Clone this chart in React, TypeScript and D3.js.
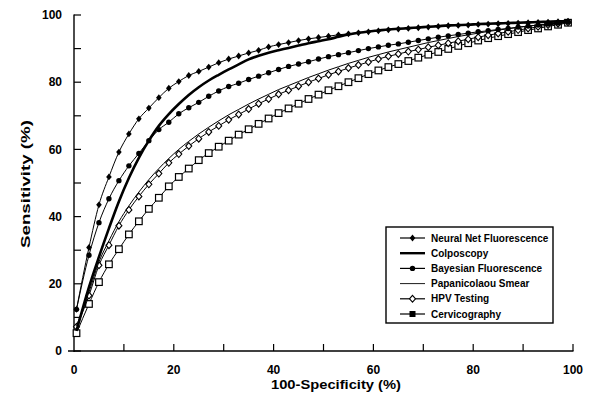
import React from "react";
import * as d3 from "d3";

const xValues = [0.5, 3, 5, 7, 9, 11, 13, 15, 17, 19, 21, 23, 25, 27, 29, 31, 33, 35, 37, 39, 41, 43, 45, 47, 49, 51, 53, 55, 57, 59, 61, 63, 65, 67, 69, 71, 73, 75, 77, 79, 81, 83, 85, 87, 89, 91, 93, 95, 97, 99];

const neuralNet = [12.4, 30.8, 43.5, 51.8, 59.2, 64.6, 69.1, 72.3, 75.4, 78.2, 80.2, 82.0, 83.2, 84.5, 85.8, 86.9, 87.8, 88.7, 89.5, 90.5, 91.2, 91.8, 92.4, 92.9, 93.3, 93.7, 94.1, 94.4, 94.7, 95.0, 95.3, 95.6, 95.8, 96.0, 96.2, 96.4, 96.6, 96.8, 96.9, 97.0, 97.2, 97.3, 97.4, 97.5, 97.6, 97.7, 97.8, 97.9, 98.0, 98.2];
const colposcopy = [6.0, 19.0, 28.0, 36.5, 44.5, 51.5, 57.5, 62.6, 67.0, 70.5, 73.5, 76.2, 78.5, 80.5, 82.2, 83.8, 85.3, 86.8, 87.9, 88.8, 89.5, 90.2, 90.9, 91.6, 92.2, 92.8, 93.5, 94.2, 94.7, 95.1, 95.4, 95.7, 95.9, 96.1, 96.3, 96.5, 96.7, 96.9, 97.0, 97.1, 97.3, 97.4, 97.5, 97.6, 97.7, 97.8, 97.9, 98.0, 98.1, 98.3];
const bayesian = [12.4, 28.5, 38.2, 45.3, 50.7, 55.1, 58.8, 62.6, 65.9, 68.1, 70.6, 72.4, 74.0, 75.8, 77.4, 78.7, 79.7, 80.8, 81.8, 82.8, 83.8, 84.7, 85.4, 86.1, 86.9, 87.6, 88.2, 88.8, 89.4, 90.0, 90.5, 91.0, 91.4, 91.9, 92.4, 92.9, 93.4, 93.8, 94.2, 94.6, 95.0, 95.3, 95.7, 96.0, 96.4, 96.7, 97.0, 97.3, 97.6, 97.9];
const papSmear = [7.5, 17.5, 26.5, 32.8, 38.5, 43.2, 47.3, 51.0, 54.3, 57.3, 60.0, 62.4, 64.6, 66.6, 68.5, 70.3, 71.9, 73.5, 75.0, 76.4, 77.8, 79.0, 80.2, 81.4, 82.5, 83.6, 84.6, 85.6, 86.5, 87.4, 88.2, 89.0, 89.7, 90.4, 91.1, 91.8, 92.4, 93.0, 93.6, 94.1, 94.6, 95.1, 95.5, 95.9, 96.3, 96.7, 97.0, 97.3, 97.6, 97.9];
const hpv = [7.2, 16.5, 25.5, 31.5, 37.3, 42.0, 46.0, 49.6, 52.8, 56.0, 58.6, 61.0, 63.2, 65.2, 67.0, 68.8, 70.4, 72.0, 73.6, 75.0, 76.4, 77.6, 78.8, 80.0, 81.1, 82.2, 83.2, 84.2, 85.1, 86.0, 86.9, 87.7, 88.4, 89.1, 89.7, 90.4, 91.0, 91.6, 92.2, 92.8, 93.4, 94.0, 94.5, 95.0, 95.5, 96.0, 96.5, 97.0, 97.4, 97.8];
const cervicography = [5.3, 14.0, 20.5, 25.8, 30.3, 34.7, 38.6, 42.3, 45.6, 49.0, 51.8, 54.3, 56.8, 58.9, 60.8, 62.6, 64.4, 66.0, 67.6, 69.2, 70.8, 72.2, 73.6, 75.0, 76.3, 77.6, 78.8, 80.0, 81.2, 82.4, 83.5, 84.5, 85.4, 86.3, 87.3, 88.2, 89.0, 89.9, 90.8, 91.6, 92.4, 93.1, 93.7, 94.3, 94.9, 95.5, 96.0, 96.6, 97.1, 97.7];

const seriesNames = ["Neural Net Fluorescence", "Colposcopy", "Bayesian Fluorescence", "Papanicolaou Smear", "HPV Testing", "Cervicography"];
const xTickLabels = [0, 20, 40, 60, 80, 100];
const yTickLabels = [0, 20, 40, 60, 80, 100];
const minorTicks = [0, 10, 20, 30, 40, 50, 60, 70, 80, 90, 100];

type Marker = "fdiamond" | "none" | "circle" | "odiamond" | "osquare" | "fsquare";

const FONT = "'Liberation Sans', Arial, Helvetica, sans-serif";

function markerEl(kind: Marker, cx: number, cy: number, key: string | number) {
  switch (kind) {
    case "fdiamond":
      return <path key={key} d={`M${cx},${cy - 3.4}L${cx + 2.8},${cy}L${cx},${cy + 3.4}L${cx - 2.8},${cy}Z`} fill="#000" />;
    case "circle":
      return <circle key={key} cx={cx} cy={cy} r={2.7} fill="#000" />;
    case "odiamond":
      return <path key={key} d={`M${cx},${cy - 3.4}L${cx + 3},${cy}L${cx},${cy + 3.4}L${cx - 3},${cy}Z`} fill="#fff" stroke="#000" strokeWidth={1.1} />;
    case "osquare":
      return <rect key={key} x={cx - 3.3} y={cy - 3.3} width={6.6} height={6.6} fill="#fff" stroke="#000" strokeWidth={1.2} />;
    case "fsquare":
      return <rect key={key} x={cx - 3} y={cy - 3} width={6} height={6} fill="#000" />;
    default:
      return null;
  }
}

export default function App() {
  const x = d3.scaleLinear().domain([0, 100]).range([74, 573]);
  const y = d3.scaleLinear().domain([0, 100]).range([351, 15]);

  const series: { name: string; values: number[]; marker: Marker; width: number; legendMarker: Marker }[] = [
    { name: seriesNames[5], values: cervicography, marker: "osquare", width: 1, legendMarker: "fsquare" },
    { name: seriesNames[4], values: hpv, marker: "odiamond", width: 1, legendMarker: "odiamond" },
    { name: seriesNames[3], values: papSmear, marker: "none", width: 1, legendMarker: "none" },
    { name: seriesNames[2], values: bayesian, marker: "circle", width: 1, legendMarker: "circle" },
    { name: seriesNames[1], values: colposcopy, marker: "none", width: 2.6, legendMarker: "none" },
    { name: seriesNames[0], values: neuralNet, marker: "fdiamond", width: 1, legendMarker: "fdiamond" },
  ];

  const line = d3
    .line<number>()
    .x((_, i) => x(xValues[i]))
    .y((d) => y(d))
    .curve(d3.curveMonotoneX);

  const legendOrder = [5, 4, 3, 2, 1, 0];

  return (
    <svg width={590} height={402} style={{ position: "absolute", left: 0, top: 0, background: "#fff" }} fontFamily={FONT}>
      <rect x={0} y={0} width={590} height={402} fill="#fff" />
      {/* axes */}
      <line x1={74} x2={74} y1={14.5} y2={352} stroke="#000" strokeWidth={1.4} />
      <line x1={68} x2={573.5} y1={351} y2={351} stroke="#000" strokeWidth={1.4} />
      {minorTicks.map((t) => (
        <line key={"yt" + t} x1={74} x2={81} y1={y(t)} y2={y(t)} stroke="#000" strokeWidth={1.2} />
      ))}
      {minorTicks.filter((t) => t > 0).map((t) => (
        <line key={"xt" + t} x1={x(t)} x2={x(t)} y1={351} y2={344} stroke="#000" strokeWidth={1.2} />
      ))}
      {yTickLabels.map((t) => (
        <text key={"yl" + t} x={62} y={y(t) + 4.2} textAnchor="end" fontSize={12} fontWeight="bold">
          {t}
        </text>
      ))}
      {xTickLabels.map((t) => (
        <text key={"xl" + t} x={x(t)} y={373.5} textAnchor="middle" fontSize={12} fontWeight="bold">
          {t}
        </text>
      ))}
      <text x={336} y={388.5} textAnchor="middle" fontSize={13} fontWeight="bold" textLength={130} lengthAdjust="spacingAndGlyphs">
        100-Specificity (%)
      </text>
      <text transform="translate(30,184) rotate(-90)" textAnchor="middle" fontSize={13} fontWeight="bold" textLength={128} lengthAdjust="spacingAndGlyphs">
        Sensitivity (%)
      </text>

      {/* series */}
      {series.map((s) => (
        <g key={s.name}>
          <path d={line(s.values) || ""} fill="none" stroke="#000" strokeWidth={s.width} />
          {s.marker !== "none" && s.values.map((v, i) => markerEl(s.marker, x(xValues[i]), y(v), i))}
        </g>
      ))}

      {/* legend */}
      <rect x={386} y={227} width={167} height={96} fill="#fff" stroke="#000" strokeWidth={1.4} />
      {legendOrder.map((idx, row) => {
        const s = series[idx];
        const cy = 238 + row * 15.2;
        return (
          <g key={"lg" + row}>
            <line x1={400} x2={425} y1={cy} y2={cy} stroke="#000" strokeWidth={s.width === 1 ? (s.marker === "none" ? 0.9 : 1.2) : 2.4} />
            {markerEl(s.legendMarker, 412.5, cy, "m")}
            <text x={431} y={cy + 3.6} fontSize={10} fontWeight="bold">
              {s.name}
            </text>
          </g>
        );
      })}
    </svg>
  );
}
